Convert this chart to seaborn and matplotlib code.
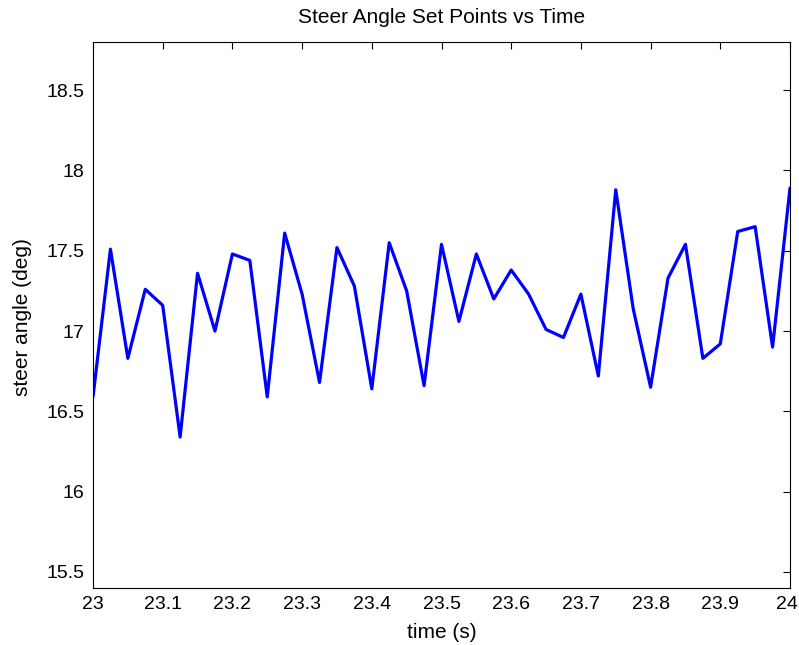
import matplotlib
matplotlib.use("Agg")
import matplotlib.pyplot as plt
import matplotlib.transforms as mtransforms
import seaborn as sns
import pandas as pd
import numpy as np
from matplotlib.ticker import FuncFormatter

time_s = [23 + 0.025 * i for i in range(41)]
steer_deg = [16.59, 17.51, 16.83, 17.26, 17.16, 16.34, 17.36, 17.00, 17.48, 17.44,
             16.59, 17.61, 17.23, 16.68, 17.52, 17.28, 16.64, 17.55, 17.25, 16.66,
             17.54, 17.06, 17.48, 17.20, 17.38, 17.23, 17.01, 16.96, 17.23, 16.72,
             17.88, 17.14, 16.65, 17.33, 17.54, 16.83, 16.92, 17.62, 17.65, 16.90,
             17.89]
xticks = [23, 23.1, 23.2, 23.3, 23.4, 23.5, 23.6, 23.7, 23.8, 23.9, 24]
yticks = [15.5, 16, 16.5, 17, 17.5, 18, 18.5]

sns.set_style("white")
plt.rcParams['font.family'] = ['Liberation Sans', 'DejaVu Sans']
plt.rcParams['text.color'] = 'black'
plt.rcParams['axes.labelcolor'] = 'black'

df = pd.DataFrame({"time": time_s, "angle": steer_deg})

fig = plt.figure(figsize=(7.99, 6.45), dpi=100)
ax = fig.add_axes([93/799, 1 - 588/645, (790 - 93)/799, (588 - 42)/645])
sns.lineplot(data=df, x="time", y="angle", ax=ax, color=(0, 0, 1), linewidth=2.3)

ax.set_xlim(23, 24)
ax.set_ylim(15.4, 18.8)
ax.set_xticks(xticks)
ax.set_yticks(yticks)
fmt = FuncFormatter(lambda v, p: ('%g' % round(v, 3)))
ax.xaxis.set_major_formatter(fmt)
ax.yaxis.set_major_formatter(fmt)
ax.tick_params(direction='in', length=5, width=0.8, top=True, right=True,
               labelsize=14, colors='black', pad=6)
for s in ax.spines.values():
    s.set_visible(True)
    s.set_color('black')
    s.set_linewidth(0.8)

# nudge the last x tick label so it stays inside the figure
last = ax.get_xticklabels()[-1]
last.set_transform(last.get_transform() +
                   mtransforms.ScaledTranslation(-0.035, 0, fig.dpi_scale_trans))

ax.set_xlabel("time (s)", fontsize=15, labelpad=7, color='black')
ax.set_ylabel("steer angle (deg)", fontsize=15, color='black')
ax.yaxis.set_label_coords(-0.087, 0.497)
ax.set_title("Steer Angle Set Points vs Time", fontsize=15, pad=14, color='black')

fig.savefig("out.png", dpi=100)
